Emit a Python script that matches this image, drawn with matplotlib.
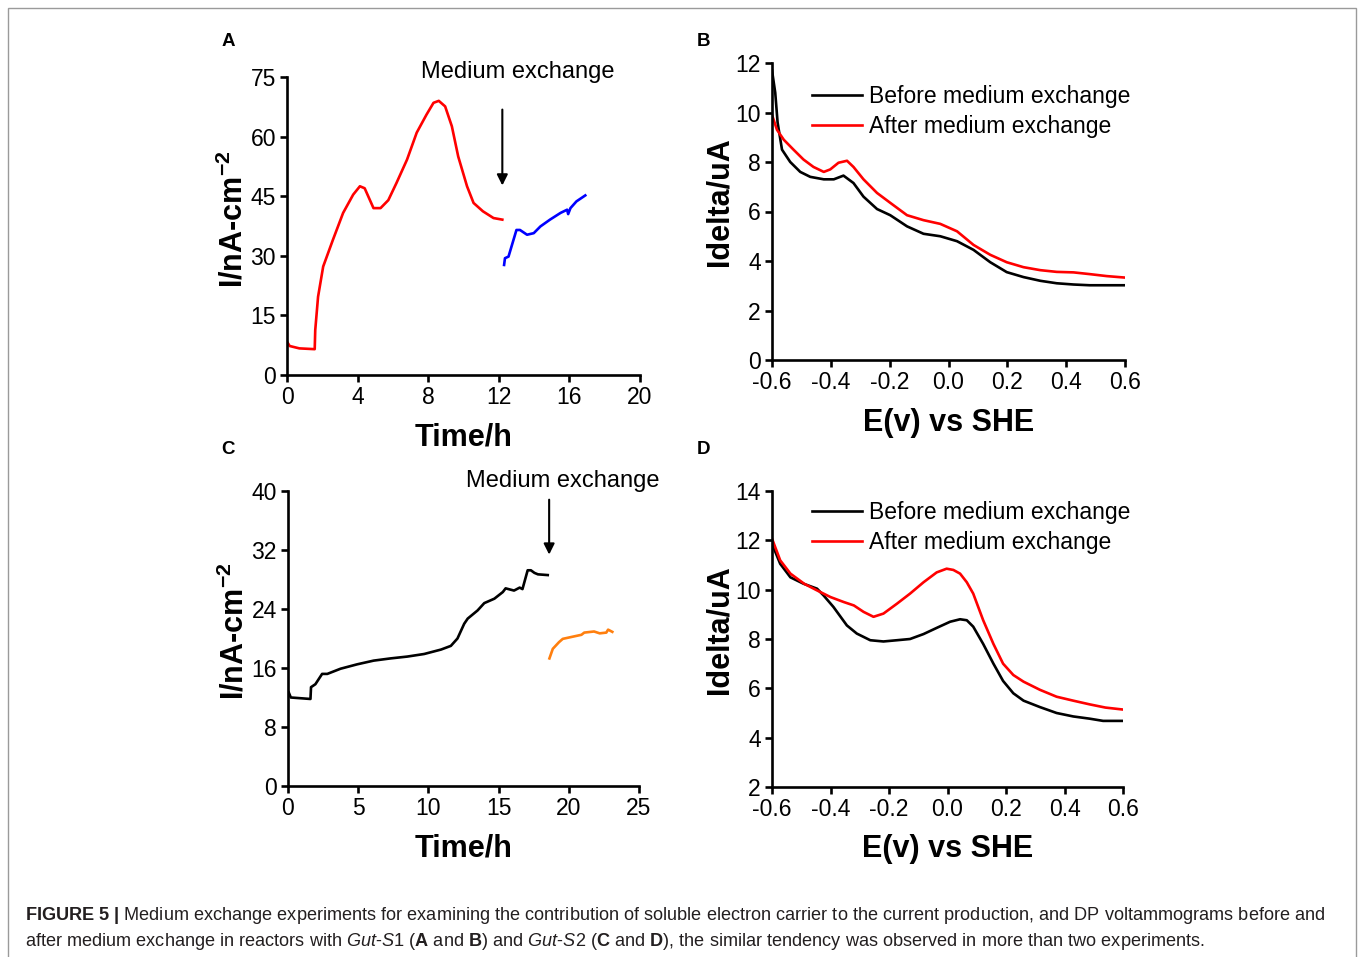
import matplotlib
matplotlib.use('Agg')
import matplotlib.pyplot as plt
import matplotlib.patches as mpatches
from matplotlib.ticker import FormatStrFormatter

plt.rcParams['font.family'] = ['Liberation Sans', 'DejaVu Sans']
plt.rcParams['mathtext.fontset'] = 'custom'
plt.rcParams['mathtext.rm'] = 'Liberation Sans'
plt.rcParams['mathtext.bf'] = 'Liberation Sans:bold'
plt.rcParams['mathtext.it'] = 'Liberation Sans:italic'
plt.rcParams['axes.unicode_minus'] = False

# --- panel A: current, Gut-S1 ---
a_before_t = [0.0, 0.15, 0.7, 1.57, 1.6, 1.76, 2.05, 2.6, 3.18, 3.75, 4.13, 4.4, 4.7, 4.9,
              5.3, 5.74, 6.2, 6.8, 7.35, 7.9, 8.3, 8.6, 8.96, 9.34, 9.7, 10.2, 10.57,
              11.1, 11.7, 12.2]
a_before_i = [8.4, 7.3, 6.7, 6.5, 11.3, 19.7, 27.3, 34.0, 40.8, 45.4, 47.5, 47.0, 44.0, 42.0,
              42.0, 44.0, 48.3, 54.2, 61.0, 65.5, 68.5, 69.0, 67.6, 62.6, 55.0, 47.5, 43.3,
              41.2, 39.5, 39.1]
a_after_t = [12.3, 12.35, 12.55, 13.0, 13.2, 13.6, 13.98, 14.36, 14.9, 15.5, 15.87, 15.93,
             16.06, 16.4, 16.9]
a_after_i = [27.7, 29.4, 29.8, 36.5, 36.5, 35.3, 35.7, 37.4, 39.1, 40.8, 41.6, 40.5,
             42.0, 43.7, 45.2]

# --- panel B: DPV, Gut-S1 ---
b_before_e = [-0.6, -0.589, -0.581, -0.566, -0.538, -0.504, -0.47, -0.424, -0.39, -0.357,
              -0.323, -0.289, -0.243, -0.198, -0.141, -0.085, -0.028, 0.029, 0.085, 0.142,
              0.198, 0.255, 0.312, 0.368, 0.425, 0.48, 0.6]
b_before_i = [11.7, 10.8, 9.6, 8.5, 8.0, 7.6, 7.4, 7.3, 7.3, 7.45, 7.15, 6.6, 6.1, 5.85,
              5.4, 5.1, 5.0, 4.8, 4.45, 3.95, 3.55, 3.35, 3.2, 3.1, 3.05, 3.02, 3.02]
b_after_e = [-0.6, -0.583, -0.56, -0.527, -0.493, -0.459, -0.424, -0.402, -0.374, -0.345,
             -0.323, -0.289, -0.243, -0.198, -0.141, -0.085, -0.028, 0.029, 0.085, 0.142,
             0.198, 0.255, 0.312, 0.368, 0.425, 0.48, 0.538, 0.6]
b_after_i = [9.9, 9.3, 8.9, 8.5, 8.1, 7.8, 7.6, 7.7, 7.97, 8.05, 7.8, 7.3, 6.75, 6.35,
             5.85, 5.65, 5.5, 5.2, 4.65, 4.25, 3.95, 3.75, 3.63, 3.56, 3.54, 3.47, 3.39, 3.33]

# --- panel C: current, Gut-S2 ---
c_before_t = [0.05, 0.2, 1.6, 1.64, 1.95, 2.43, 2.8, 3.74, 4.93, 6.1, 7.3, 8.5, 9.7, 10.9,
              11.6, 12.07, 12.55, 12.8, 13.5, 13.98, 14.7, 15.3, 15.5, 16.1, 16.5, 16.7,
              17.07, 17.3, 17.55, 17.8, 18.5]
c_before_i = [12.7, 12.0, 11.8, 13.4, 13.8, 15.2, 15.2, 15.9, 16.5, 17.0, 17.3, 17.55, 17.9,
              18.5, 19.0, 20.0, 22.0, 22.7, 23.8, 24.8, 25.4, 26.3, 26.8, 26.5, 26.9, 26.7,
              29.25, 29.25, 28.9, 28.7, 28.6]
c_after_t = [18.62, 18.86, 19.3, 19.57, 20.17, 20.9, 21.1, 21.8, 22.2, 22.67, 22.8, 23.1]
c_after_i = [17.3, 18.6, 19.5, 19.95, 20.2, 20.5, 20.8, 20.95, 20.7, 20.8, 21.2, 20.9]

# --- panel D: DPV, Gut-S2 ---
d_before_e = [-0.6, -0.572, -0.537, -0.492, -0.446, -0.424, -0.39, -0.344, -0.31, -0.264,
              -0.219, -0.173, -0.128, -0.082, -0.037, 0.009, 0.043, 0.066, 0.088, 0.122,
              0.157, 0.19, 0.225, 0.26, 0.316, 0.373, 0.43, 0.486, 0.532, 0.6]
d_before_i = [11.86, 11.05, 10.5, 10.24, 10.04, 9.77, 9.3, 8.55, 8.22, 7.95, 7.9, 7.95, 8.0,
              8.2, 8.45, 8.7, 8.8, 8.76, 8.5, 7.8, 7.0, 6.3, 5.8, 5.5, 5.24, 5.0, 4.86,
              4.77, 4.68, 4.68]
d_after_e = [-0.6, -0.572, -0.537, -0.49, -0.446, -0.4, -0.355, -0.32, -0.287, -0.253,
             -0.219, -0.173, -0.128, -0.082, -0.037, -0.003, 0.02, 0.043, 0.066, 0.088,
             0.122, 0.157, 0.19, 0.225, 0.26, 0.316, 0.373, 0.43, 0.486, 0.54, 0.6]
d_after_i = [12.07, 11.19, 10.65, 10.24, 9.97, 9.7, 9.5, 9.36, 9.1, 8.9, 9.03, 9.43, 9.84,
             10.3, 10.7, 10.85, 10.8, 10.65, 10.3, 9.84, 8.76, 7.8, 7.0, 6.54, 6.27, 5.94,
             5.66, 5.5, 5.35, 5.22, 5.14]

legend_labels = ['Before medium exchange', 'After medium exchange']
e_ticks = [-0.6, -0.4, -0.2, 0.0, 0.2, 0.4, 0.6]

fig = plt.figure(figsize=(13.58, 9.57), dpi=100, facecolor='white')

# 外框
fig.patches.append(mpatches.Rectangle((8 / 1358, -0.02), 1348 / 1358, 1 - 8 / 957 + 0.02,
                                      transform=fig.transFigure, fill=False,
                                      edgecolor='#9a9a9a', linewidth=1.0))

LW = 1.9
TICK_FS = 16.5
LABEL_FS = 22
LEG_FS = 16.5


def style_axes(ax):
    for side in ['top', 'right']:
        ax.spines[side].set_visible(False)
    for side in ['left', 'bottom']:
        ax.spines[side].set_linewidth(LW)
    ax.tick_params(direction='out', length=5, width=LW, labelsize=TICK_FS, pad=3, colors='black')


ax_a = fig.add_axes([287 / 1358, 1 - 375 / 957, 353 / 1358, 298 / 957])
ax_b = fig.add_axes([772 / 1358, 1 - 360 / 957, 353 / 1358, 297 / 957])
ax_c = fig.add_axes([288 / 1358, 1 - 786 / 957, 351 / 1358, 295 / 957])
ax_d = fig.add_axes([772 / 1358, 1 - 787 / 957, 351 / 1358, 296 / 957])

# --- A ---
ax_a.plot(a_before_t, a_before_i, color='#ff0000', lw=LW)
ax_a.plot(a_after_t, a_after_i, color='#0000ff', lw=LW)
ax_a.set_xlim(0, 20)
ax_a.set_ylim(0, 75)
ax_a.set_xticks(range(0, 21, 4))
ax_a.set_yticks(range(0, 76, 15))
ax_a.text(13.05, 76.3, 'Medium exchange', ha='center', va='center', fontsize=17, clip_on=False)
ax_a.annotate('', xy=(12.2, 47), xytext=(12.2, 67.5),
              arrowprops=dict(arrowstyle='-|>', color='black', lw=1.5, mutation_scale=16))

# --- B ---
lb1, = ax_b.plot(b_before_e, b_before_i, color='black', lw=LW)
lb2, = ax_b.plot(b_after_e, b_after_i, color='#ff0000', lw=LW)
ax_b.set_xlim(-0.6, 0.6)
ax_b.set_ylim(0, 12)
ax_b.set_xticks(e_ticks)
ax_b.set_yticks(range(0, 13, 2))
ax_b.xaxis.set_major_formatter(FormatStrFormatter('%.1f'))
ax_b.legend([lb1, lb2], legend_labels, loc='upper left', bbox_to_anchor=(0.113, 0.925),
            frameon=False, fontsize=LEG_FS, handlelength=2.18, handletextpad=0.3,
            labelspacing=0.3, borderpad=0, borderaxespad=0)

# --- C ---
ax_c.plot(c_before_t, c_before_i, color='black', lw=LW)
ax_c.plot(c_after_t, c_after_i, color='#ff7f0e', lw=LW)
ax_c.set_xlim(0, 25)
ax_c.set_ylim(0, 40)
ax_c.set_xticks(range(0, 26, 5))
ax_c.set_yticks(range(0, 41, 8))
ax_c.text(19.6, 41.4, 'Medium exchange', ha='center', va='center', fontsize=17, clip_on=False)
ax_c.annotate('', xy=(18.6, 31.0), xytext=(18.6, 39.2),
              arrowprops=dict(arrowstyle='-|>', color='black', lw=1.5, mutation_scale=16))

# --- D ---
ld1, = ax_d.plot(d_before_e, d_before_i, color='black', lw=LW)
ld2, = ax_d.plot(d_after_e, d_after_i, color='#ff0000', lw=LW)
ax_d.set_xlim(-0.6, 0.6)
ax_d.set_ylim(2, 14)
ax_d.set_xticks(e_ticks)
ax_d.set_yticks(range(2, 15, 2))
ax_d.xaxis.set_major_formatter(FormatStrFormatter('%.1f'))
ax_d.legend([ld1, ld2], legend_labels, loc='upper left', bbox_to_anchor=(0.114, 0.965),
            frameon=False, fontsize=LEG_FS, handlelength=2.18, handletextpad=0.3,
            labelspacing=0.3, borderpad=0, borderaxespad=0)

for ax in [ax_a, ax_c]:
    style_axes(ax)
    ax.set_xlabel('Time/h', fontsize=LABEL_FS, fontweight='bold')
    ax.set_ylabel(r'I/nA-cm$^{\mathbf{-2}}$', fontsize=LABEL_FS, fontweight='bold')
for ax in [ax_b, ax_d]:
    style_axes(ax)
    ax.set_xlabel('E(v) vs SHE', fontsize=LABEL_FS, fontweight='bold')
    ax.set_ylabel('Idelta/uA', fontsize=LABEL_FS, fontweight='bold')
for ax, ly in [(ax_a, 0.523), (ax_b, 0.533), (ax_c, 0.524), (ax_d, 0.53)]:
    ax.xaxis.set_label_coords(0.5, -0.16)
    ax.yaxis.set_label_coords(-0.107, ly)

# 面板字母
for x, y, s in [(228, 42, 'A'), (703, 42, 'B'), (228, 449, 'C'), (703, 449, 'D')]:
    fig.text(x / 1358, 1 - y / 957, s, ha='center', va='center', fontsize=13.5, fontweight='bold')

# 图注
cap_color = '#231f20'
fig.text(25 / 1358, 1 - 915 / 957,
         r'$\mathbf{FIGURE\ 5\ |}$ Medium exchange experiments for examining the contribution of '
         r'soluble electron carrier to the current production, and DP voltammograms before and',
         ha='left', va='center', fontsize=13.1, color=cap_color)
fig.text(25 / 1358, 1 - 941 / 957,
         r'after medium exchange in reactors with $\mathit{Gut}$-$\mathit{S1}$ ($\mathbf{A}$ and '
         r'$\mathbf{B}$) and $\mathit{Gut}$-$\mathit{S2}$ ($\mathbf{C}$ and $\mathbf{D}$), the similar '
         r'tendency was observed in more than two experiments.',
         ha='left', va='center', fontsize=13.1, color=cap_color)

fig.savefig('out.png', dpi=100, facecolor='white')
